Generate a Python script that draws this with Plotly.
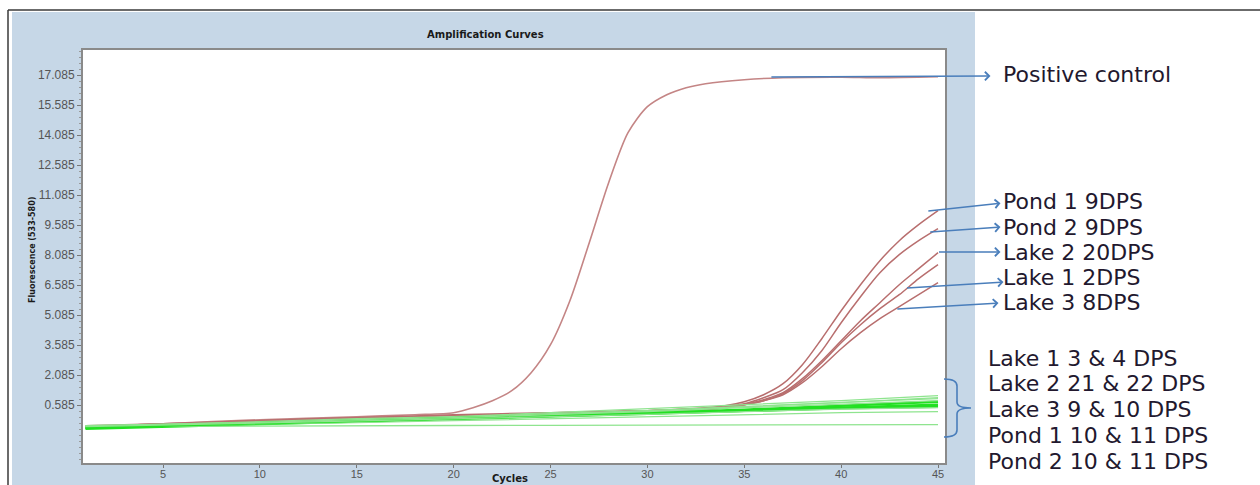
import plotly.graph_objects as go

# ---------------- data ----------------
pos_cycles = [1, 5, 10, 15, 18, 20, 21, 22, 23, 24, 25, 26, 27, 28, 29, 30, 31, 32, 33, 35, 37, 40, 42, 45]
positive_control = [-0.5, -0.35, -0.15, 0.0, 0.1, 0.2, 0.45, 0.8, 1.3, 2.2, 3.6, 5.8, 8.7, 11.7, 14.2,
                    15.5, 16.1, 16.45, 16.65, 16.85, 16.95, 16.98, 16.95, 17.0]

sample_cycles = [1, 5, 10, 15, 20, 25, 30, 33, 34, 35, 36, 37, 38, 39, 40, 41, 42, 43, 44, 45]
pond1_9dps = [-0.5, -0.35, -0.2, -0.05, 0.1, 0.2, 0.3, 0.45, 0.55, 0.75, 1.1, 1.65, 2.6, 3.9, 5.3, 6.6, 7.8, 8.8, 9.6, 10.3]
pond2_9dps = [-0.55, -0.4, -0.25, -0.1, 0.05, 0.15, 0.3, 0.4, 0.5, 0.65, 0.95, 1.35, 2.2, 3.3, 4.7, 6.0, 7.2, 8.1, 8.8, 9.4]
lake2_20dps = [-0.5, -0.4, -0.2, -0.05, 0.0, 0.2, 0.3, 0.4, 0.45, 0.6, 0.85, 1.2, 1.9, 2.8, 3.8, 4.8, 5.7, 6.6, 7.4, 8.2]
lake1_2dps = [-0.45, -0.35, -0.25, -0.1, 0.05, 0.1, 0.25, 0.35, 0.45, 0.6, 0.8, 1.15, 1.8, 2.7, 3.7, 4.6, 5.4, 6.1, 6.9, 7.6]
lake3_8dps = [-0.5, -0.4, -0.2, -0.1, 0.0, 0.15, 0.3, 0.4, 0.45, 0.6, 0.8, 1.1, 1.7, 2.5, 3.4, 4.2, 4.9, 5.5, 6.1, 6.7]

neg_cycles = [1, 5, 10, 15, 20, 25, 30, 35, 40, 45]
lake1_3dps = [-0.5, -0.4, -0.3, -0.15, -0.05, 0.1, 0.3, 0.5, 0.7, 0.95]
lake1_4dps = [-0.55, -0.45, -0.35, -0.2, -0.1, 0.05, 0.2, 0.35, 0.55, 0.75]
lake2_21dps = [-0.45, -0.38, -0.25, -0.1, 0.0, 0.2, 0.4, 0.6, 0.8, 1.05]
lake2_22dps = [-0.5, -0.42, -0.3, -0.15, -0.02, 0.15, 0.3, 0.5, 0.72, 0.9]
lake3_9dps = [-0.6, -0.5, -0.35, -0.25, -0.12, 0.0, 0.15, 0.3, 0.45, 0.6]
lake3_10dps = [-0.5, -0.45, -0.38, -0.3, -0.2, -0.1, 0.0, 0.1, 0.2, 0.25]
pond1_10dps = [-0.5, -0.48, -0.47, -0.45, -0.44, -0.43, -0.42, -0.42, -0.41, -0.4]
pond1_11dps = [-0.55, -0.45, -0.35, -0.22, -0.1, 0.02, 0.15, 0.3, 0.42, 0.5]
pond2_10dps = [-0.45, -0.38, -0.28, -0.15, -0.05, 0.1, 0.25, 0.45, 0.62, 0.8]
pond2_11dps = [-0.5, -0.42, -0.32, -0.22, -0.12, 0.0, 0.12, 0.25, 0.38, 0.45]

y_tick_values = [0.585, 2.085, 3.585, 5.085, 6.585, 8.085, 9.585, 11.085, 12.585, 14.085, 15.585, 17.085]
y_tick_labels = ["0.585", "2.085", "3.585", "5.085", "6.585", "8.085", "9.585", "11.085",
                 "12.585", "14.085", "15.585", "17.085"]
x_tick_values = [5, 10, 15, 20, 25, 30, 35, 40, 45]

upper_labels = ["Pond 1 9DPS", "Pond 2 9DPS", "Lake 2 20DPS", "Lake 1 2DPS", "Lake 3 8DPS"]
lower_labels = ["Lake 1 3 & 4 DPS", "Lake 2 21 & 22 DPS", "Lake 3 9 & 10 DPS",
                "Pond 1 10 & 11 DPS", "Pond 2 10 & 11 DPS"]

# ---------------- layout geometry ----------------
W, H = 1260, 485
ML, MR, MT, MB = 83, 315, 50, 22
PW, PH = W - ML - MR, H - MT - MB
X_RANGE = [0.871, 45.36]
Y_RANGE = [-2.315, 18.335]


def px(xp):
    return (xp - ML) / PW


def py(yp):
    return 1 - (yp - MT) / PH


def data_px(x, y):
    xp = ML + (x - X_RANGE[0]) / (X_RANGE[1] - X_RANGE[0]) * PW
    yp = MT + (Y_RANGE[1] - y) / (Y_RANGE[1] - Y_RANGE[0]) * PH
    return xp, yp


fig = go.Figure()

RED_POS = "#c48585"
RED = "#b86e6e"
fig.add_trace(go.Scatter(x=pos_cycles, y=positive_control, mode="lines",
                         line=dict(color=RED_POS, width=1.6, shape="spline", smoothing=0.8),
                         name="Positive control"))
for nm, vals in zip(upper_labels, [pond1_9dps, pond2_9dps, lake2_20dps, lake1_2dps, lake3_8dps]):
    fig.add_trace(go.Scatter(x=sample_cycles, y=vals, mode="lines",
                             line=dict(color=RED, width=1.5, shape="spline", smoothing=0.9),
                             name=nm))

neg_series = [
    ("Lake 1 3DPS", lake1_3dps, "pale"), ("Lake 1 4DPS", lake1_4dps, "bright"),
    ("Lake 2 21DPS", lake2_21dps, "pale"), ("Lake 2 22DPS", lake2_22dps, "pale"),
    ("Lake 3 9DPS", lake3_9dps, "bright"), ("Lake 3 10DPS", lake3_10dps, "pale"),
    ("Pond 1 10DPS", pond1_10dps, "pale"), ("Pond 1 11DPS", pond1_11dps, "bright"),
    ("Pond 2 10DPS", pond2_10dps, "pale"), ("Pond 2 11DPS", pond2_11dps, "pale"),
]
for nm, vals, kind in neg_series:
    if kind == "bright":
        ln = dict(color="#22e022", width=2.6)
    else:
        ln = dict(color="#8fe48f", width=1.3)
    fig.add_trace(go.Scatter(x=neg_cycles, y=vals, mode="lines", line=ln, name=nm))

# ---------------- background panels ----------------
shapes = [
    dict(type="rect", xref="paper", yref="paper", x0=px(12), x1=px(975), y0=py(490), y1=py(12),
         fillcolor="#c6d7e7", line=dict(width=0), layer="below"),
    dict(type="rect", xref="paper", yref="paper", x0=0, x1=1, y0=0, y1=1,
         fillcolor="white", line=dict(width=0), layer="below"),
    dict(type="line", xref="paper", yref="paper", x0=px(8), x1=px(1262), y0=py(10), y1=py(10),
         line=dict(color="#3a3a3a", width=1.5)),
    dict(type="line", xref="paper", yref="paper", x0=px(8), x1=px(8), y0=py(10), y1=py(490),
         line=dict(color="#3a3a3a", width=1.5)),
]
# brace grouping the negative samples
brace = ("M {a},{b} Q {c},{b} {c},{d} L {c},{e} Q {c},{f} {g},{f} Q {c},{f} {c},{h} L {c},{i} Q {c},{j} {a},{j}"
         .format(a=px(944), b=py(379), c=px(957), d=py(386), e=py(402), f=py(408), g=px(971),
                 h=py(414), i=py(430), j=py(437)))
shapes.append(dict(type="path", xref="paper", yref="paper", path=brace,
                   line=dict(color="#4a7ebb", width=1.6)))

annotations = []
ARROW = "#4a7ebb"
LABEL_FONT = dict(family="DejaVu Sans", size=22, color="#22182e")

# arrows: tail on curve (data), head next to label (pixels)
arrow_specs = [
    ("Positive control", 36.4, 16.99, 992, 76, 75),
    (upper_labels[0], 44.5, 10.28, 1002, 203, 201),
    (upper_labels[1], 44.6, 9.24, 1002, 227, 227),
    (upper_labels[2], 45.05, 8.24, 1002, 252, 252),
    (upper_labels[3], 43.4, 6.44, 1005, 282, 277),
    (upper_labels[4], 42.9, 5.39, 1000, 303, 302),
]
for text, tx, ty, hx, hy, ly in arrow_specs:
    tpx, tpy = data_px(tx, ty)
    annotations.append(dict(x=tx, y=ty, xref="x", yref="y", text="", showarrow=True,
                            arrowside="start", startarrowhead=4, startarrowsize=1.1,
                            arrowwidth=1.5, arrowcolor=ARROW, axref="pixel", ayref="pixel",
                            ax=hx - tpx, ay=hy - tpy, font=dict(size=1), standoff=0, startstandoff=0))
    annotations.append(dict(x=px(1001), y=py(ly), xref="paper", yref="paper", text=text,
                            showarrow=False, xanchor="left", yanchor="middle", font=LABEL_FONT))

for i, text in enumerate(lower_labels):
    annotations.append(dict(x=px(986), y=py(358 + 25.8 * i), xref="paper", yref="paper", text=text,
                            showarrow=False, xanchor="left", yanchor="middle", font=LABEL_FONT))

# titles
annotations.append(dict(x=px(485), y=py(34), xref="paper", yref="paper", text="<b>Amplification Curves</b>",
                        showarrow=False, xanchor="center", yanchor="middle",
                        font=dict(family="DejaVu Sans", size=10, color="#1a1a1a")))
annotations.append(dict(x=px(33), y=py(250), xref="paper", yref="paper", text="<b>Fluorescence (533-580)</b>",
                        showarrow=False, xanchor="center", yanchor="middle", textangle=-90,
                        font=dict(family="DejaVu Sans", size=8, color="#1a1a1a")))
annotations.append(dict(x=px(510), y=py(478), xref="paper", yref="paper", text="<b>Cycles</b>",
                        showarrow=False, xanchor="center", yanchor="middle",
                        font=dict(family="DejaVu Sans", size=10, color="#1a1a1a")))

fig.update_layout(
    width=W, height=H, autosize=False,
    margin=dict(l=ML, r=MR, t=MT, b=MB, pad=0),
    paper_bgcolor="white", plot_bgcolor="white",
    showlegend=False,
    shapes=shapes, annotations=annotations,
)
fig.update_xaxes(range=X_RANGE, tickmode="array", tickvals=x_tick_values, automargin=False,
                 ticks="outside", ticklen=3, tickcolor="#777", showgrid=False, zeroline=False,
                 ticklabelstandoff=-3,
                 showline=True, linecolor="#8a8a8a", linewidth=2, mirror=True,
                 tickfont=dict(family="Liberation Sans", size=11, color="#555"))
fig.update_yaxes(range=Y_RANGE, tickmode="array", tickvals=y_tick_values, ticktext=y_tick_labels,
                 automargin=False,
                 ticks="outside", ticklen=4, tickcolor="#777", showgrid=False, zeroline=False,
                 showline=True, linecolor="#8a8a8a", linewidth=2, mirror=True,
                 minor=dict(tickmode="linear", tick0=0.585, dtick=0.3, ticks="outside", ticklen=2,
                            tickcolor="#999", showgrid=False),
                 tickfont=dict(family="Liberation Sans", size=12, color="#555"))

fig.write_html("out.html")
